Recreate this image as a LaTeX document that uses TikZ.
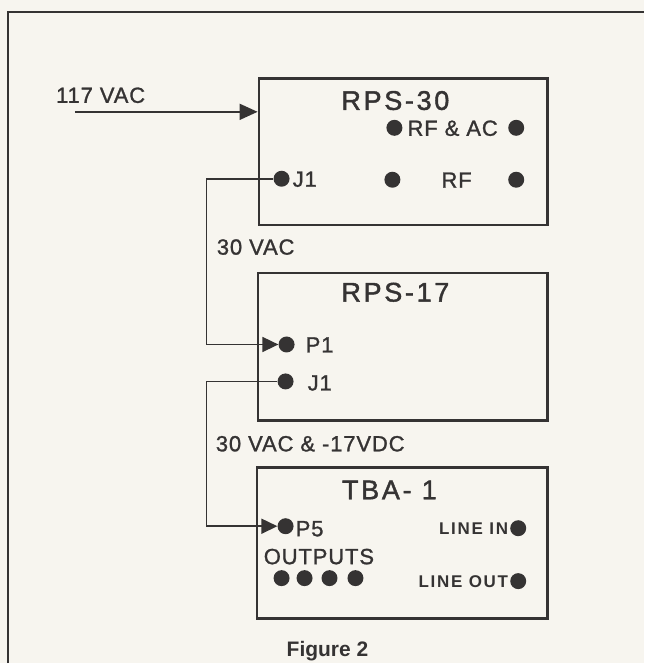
\documentclass[tikz,border=0pt]{standalone}
\usepackage{fontspec}
\setmainfont{Liberation Sans}
\newfontfamily\lblfont{Liberation Sans}[LetterSpace=4, FakeBold=1.2]
\newfontfamily\ttlfont{Liberation Sans}[LetterSpace=10, FakeBold=1.6]
\newfontfamily\smfont{Liberation Sans Bold}[LetterSpace=10]
\newfontfamily\figfont{Liberation Sans Bold}
\usetikzlibrary{arrows.meta}
\definecolor{ink}{HTML}{353333}
\definecolor{paper}{HTML}{F7F5EF}
\begin{document}
\begin{tikzpicture}[x=1pt,y=-1pt,
  box/.style={draw=ink, line width=2.8pt, anchor=north west, inner sep=0pt},
  dot/.style={circle, fill=ink, inner sep=0pt, minimum size=16pt},
  lbl/.style={inner sep=0pt, anchor=base west, text=ink, font=\lblfont\fontsize{22}{22}\selectfont},
  ttl/.style={inner sep=0pt, anchor=base, text=ink, font=\ttlfont\fontsize{27}{27}\selectfont},
  sml/.style={inner sep=0pt, anchor=base east, text=ink, font=\smfont\fontsize{17}{17}\selectfont},
  wire/.style={draw=ink, line width=1.6pt},
  plug/.style={-{Triangle[length=16pt,width=15pt]}},
  feed/.style={-{Triangle[length=18pt,width=16pt]}}]
\fill[paper] (0,0) rectangle (645,664);
\draw[ink, line width=2pt] (8,664) -- (8,12) -- (645,12);
% boxes
\node[box, minimum width=289pt, minimum height=147pt] (rps30) at (258,77) {};
\node[box, minimum width=290pt, minimum height=148pt] (rps17) at (257,272) {};
\node[box, minimum width=291pt, minimum height=151pt] (tba1) at (256,467) {};
% titles
\node[ttl] (t30) at (396,110) {RPS-30};
\node[ttl] (t17) at (396,302) {RPS-17};
\node[ttl] (ttba) at (390,500) {TBA- 1};
% RPS-30 contents
\node[dot] (rfacL) at (395,128) {};
\node[lbl] (rfac) at (408,136) {RF \& AC};
\node[dot] (rfacR) at (517,128) {};
\node[dot] (j1a) at (282,179) {};
\node[lbl] (j1alab) at (293,187) {J1};
\node[dot] (rfL) at (393,180) {};
\node[lbl] (rf) at (442,188) {RF};
\node[dot] (rfR) at (517,180) {};
% input
\node[lbl] (vac117) at (56,103) {117 VAC};
\coordinate (acin) at (75,112);
\draw[wire, feed] (acin) -- (acin -| rps30.west);
% RPS-17 contents
\node[dot] (p1) at (287,345) {};
\node[lbl] (p1lab) at (306,353) {P1};
\node[dot] (j1b) at (286,382) {};
\node[lbl] (j1blab) at (308,391) {J1};
% connector labels
\node[lbl] (vac30) at (217,255) {30 VAC};
\node[lbl] (vac30dc) at (216,452) {30 VAC \& -17VDC};
% TBA-1 contents
\node[dot] (p5) at (286,527) {};
\node[lbl] (p5lab) at (296,537) {P5};
\node[sml] (linein) at (509,535) {LINE IN};
\node[dot] (lineindot) at (519,529) {};
\node[lbl] (outputs) at (264,565) {OUTPUTS};
\node[dot] (o1) at (282,579) {};
\node[dot] (o2) at (305,579) {};
\node[dot] (o3) at (330,579) {};
\node[dot] (o4) at (356,579) {};
\node[sml] (lineout) at (509,588) {LINE OUT};
\node[dot] (lineoutdot) at (519,582) {};
% connectors
\coordinate (bus1) at (207,345);
\coordinate (bus2) at (207,527);
\draw[wire, plug] (j1a.west) -| (bus1) -- (p1.west);
\draw[wire, plug] (j1b.west) -| (bus2) -- (p5.west);
% caption
\node[inner sep=0pt, anchor=base, text=ink, font=\figfont\fontsize{21}{21}\selectfont] (cap) at (328,657) {Figure 2};
\end{tikzpicture}
\end{document}
